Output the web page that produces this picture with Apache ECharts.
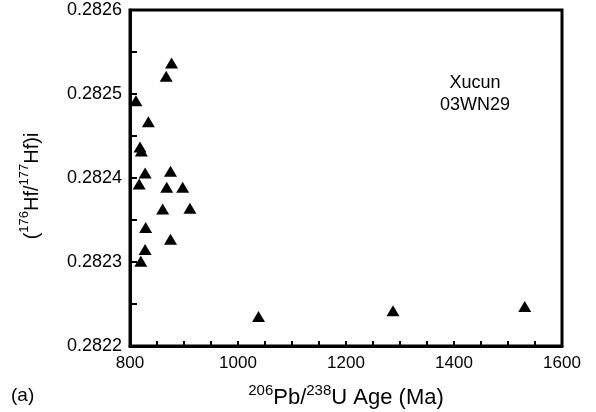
<!DOCTYPE html>
<html>
<head>
<meta charset="utf-8">
<script src="https://cdn.jsdelivr.net/npm/echarts@6/dist/echarts.min.js"></script>
<style>
html,body{margin:0;padding:0;background:#fff;}
#chart{width:596px;height:412px;}
</style>
</head>
<body>
<div id="chart"></div>
<script>
// Data: 206Pb/238U age (Ma) and initial 176Hf/177Hf
const ages = [811, 877, 867, 834, 818.5, 821, 828, 875, 817, 868, 897.5, 860.5, 911, 829, 875, 828, 820, 1038, 1287, 1531];
const hfRatios = [0.282492, 0.282537, 0.282521, 0.282467, 0.282437, 0.282432, 0.282406, 0.282408, 0.282393, 0.282389, 0.282389, 0.282363, 0.282364, 0.282341, 0.282327, 0.282315, 0.282301, 0.282235, 0.282242, 0.282247];
const xTickLabels = [800, 1000, 1200, 1400, 1600];
const yTickLabels = ['0.2822', '0.2823', '0.2824', '0.2825', '0.2826'];
const sampleLabel = ['Xucun', '03WN29'];
const panelLabel = '(a)';

const font = 'Liberation Sans, Arial, sans-serif';
const points = ages.map((a, i) => [a, hfRatios[i]]);

const chart = echarts.init(document.getElementById('chart'));
chart.setOption({
  animation: false,
  backgroundColor: '#fff',
  grid: {left: 130, right: 34, top: 10, bottom: 66, containLabel: false, outerBoundsMode: 'none', show: true, borderColor: '#000', borderWidth: 3, backgroundColor: 'transparent'},
  xAxis: {
    type: 'value', min: 800, max: 1600, interval: 50,
    axisLine: {show: true, onZero: false, lineStyle: {color: '#000', width: 3}},
    axisTick: {show: true, inside: true, length: 5, lineStyle: {color: '#000', width: 2}},
    splitLine: {show: false},
    axisLabel: {
      color: '#000', fontFamily: font, fontSize: 17, margin: 9,
      formatter: v => xTickLabels.indexOf(Math.round(v)) >= 0 ? String(Math.round(v)) : ''
    },
    name: '{sup|206}{m|Pb/}{sup|238}{m|U Age (Ma)}',
    nameLocation: 'middle', nameGap: 37,
    nameTextStyle: {
      color: '#000', fontFamily: font,
      rich: {
        m: {fontSize: 22, fontFamily: font, color: '#000', verticalAlign: 'bottom', lineHeight: 26},
        sup: {fontSize: 15, fontFamily: font, color: '#000', verticalAlign: 'top', lineHeight: 26, padding: [0, 0, 8, 0]}
      }
    }
  },
  yAxis: {
    type: 'value', min: 0.2822, max: 0.2826, interval: 0.00005,
    axisLine: {show: true, onZero: false, lineStyle: {color: '#000', width: 3}},
    axisTick: {show: true, inside: true, length: 7, lineStyle: {color: '#000', width: 2}},
    splitLine: {show: false},
    axisLabel: {
      color: '#000', fontFamily: font, fontSize: 18, margin: 8,
      formatter: v => {
        const s = v.toFixed(4);
        return (Math.round(v * 1e5) % 10 === 0 && yTickLabels.indexOf(s) >= 0) ? s : '';
      }
    },
    name: '{m|(}{sup|176}{m|Hf/}{sup|177}{m|Hf)i}',
    nameLocation: 'middle', nameGap: 88, nameRotate: 90,
    nameTextStyle: {
      color: '#000', fontFamily: font, padding: [0, 16, 0, 0],
      rich: {
        m: {fontSize: 20, fontFamily: font, color: '#000', verticalAlign: 'bottom', lineHeight: 24},
        sup: {fontSize: 13, fontFamily: font, color: '#000', verticalAlign: 'top', lineHeight: 24, padding: [0, 0, 7, 0]}
      }
    }
  },
  series: [{
    type: 'scatter',
    data: points,
    symbol: 'triangle',
    symbolSize: [13, 11],
    itemStyle: {color: '#000', opacity: 1},
    z: 3
  }],
  graphic: [
    {type: 'text', left: 475 - 40, top: 72, style: {text: sampleLabel.join('\n'), fill: '#000', font: '18px ' + font, textAlign: 'center', width: 80, lineHeight: 22, align: 'center'}},
    {type: 'text', left: 11, top: 386, style: {text: panelLabel, fill: '#000', font: '19px ' + font}}
  ]
});
</script>
</body>
</html>
